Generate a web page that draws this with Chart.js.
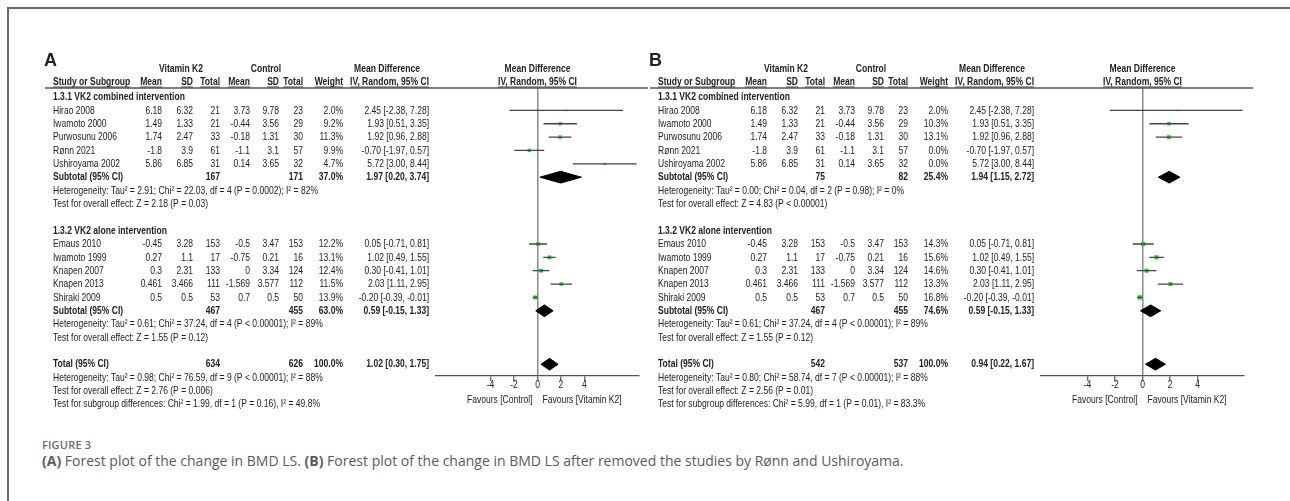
<!DOCTYPE html>
<html>
<head>
<meta charset="utf-8">
<script src="https://cdn.jsdelivr.net/npm/chart.js@4.4.1/dist/chart.umd.min.js"></script>
<style>
  html, body { margin: 0; padding: 0; background: #fff; }
  body { width: 1290px; height: 501px; position: relative; overflow: hidden; }
  #frame { position: absolute; left: 7px; top: 7px; width: 1300px; height: 510px;
           border-left: 2px solid #6b6b6b; border-top: 2px solid #6b6b6b; }
  canvas { position: absolute; top: 0; }
  #plotA { left: 0; }
  #plotB { left: 605px; }
  .fig { position: absolute; left: 42px; top: 437px; font: 600 11px "Open Sans", sans-serif;
         color: #6d6d6d; letter-spacing: 0.2px; }
  .cap { position: absolute; left: 42px; top: 451px; font: 14px "Open Sans", sans-serif;
         color: #5a5a5a; white-space: nowrap; }
  .cap b { font-weight: 700; }
</style>
</head>
<body>
<div id="frame"></div>
<canvas id="plotA" width="650" height="420"></canvas>
<canvas id="plotB" width="685" height="420"></canvas>
<div class="fig">FIGURE 3</div>
<div class="cap"><b>(A)</b> Forest plot of the change in BMD LS. <b>(B)</b> Forest plot of the change in BMD LS after removed the studies by Rønn and Ushiroyama.</div>

<script>
// ---- data ----
const groupTitles = ['1.3.1 VK2 combined intervention', '1.3.2 VK2 alone intervention'];
const studyNames = ['Hirao 2008', 'Iwamoto 2000', 'Purwosunu 2006', 'Rønn 2021', 'Ushiroyama 2002',
                    'Emaus 2010', 'Iwamoto 1999', 'Knapen 2007', 'Knapen 2013', 'Shiraki 2009'];
const studyGroup = [0, 0, 0, 0, 0, 1, 1, 1, 1, 1];
const vk2Mean = [6.18, 1.49, 1.74, -1.8, 5.86, -0.45, 0.27, 0.3, 0.461, 0.5];
const vk2SD   = [6.32, 1.33, 2.47, 3.9, 6.85, 3.28, 1.1, 2.31, 3.466, 0.5];
const vk2N    = [21, 21, 33, 61, 31, 153, 17, 133, 111, 53];
const ctlMean = [3.73, -0.44, -0.18, -1.1, 0.14, -0.5, -0.75, 0, -1.569, 0.7];
const ctlSD   = [9.78, 3.56, 1.31, 3.1, 3.65, 3.47, 0.21, 3.34, 3.577, 0.5];
const ctlN    = [23, 29, 30, 57, 32, 153, 16, 124, 112, 50];
const meanDiff = [2.45, 1.93, 1.92, -0.70, 5.72, 0.05, 1.02, 0.30, 2.03, -0.20];
const ciLow    = [-2.38, 0.51, 0.96, -1.97, 3.00, -0.71, 0.49, -0.41, 1.11, -0.39];
const ciHigh   = [7.28, 3.35, 2.88, 0.57, 8.44, 0.81, 1.55, 1.01, 2.95, -0.01];
const weightA  = [2.0, 9.2, 11.3, 9.9, 4.7, 12.2, 13.1, 12.4, 11.5, 13.9];
const weightB  = [2.0, 10.3, 13.1, 0.0, 0.0, 14.3, 15.6, 14.6, 13.3, 16.8];

// pooled rows: subgroup 1, subgroup 2, total
const pooledVk2NA = [167, 467, 634];
const pooledCtlNA = [171, 455, 626];
const pooledWA    = [37.0, 63.0, 100.0];
const pooledMdA   = [1.97, 0.59, 1.02];
const pooledLoA   = [0.20, -0.15, 0.30];
const pooledHiA   = [3.74, 1.33, 1.75];
const pooledVk2NB = [75, 467, 542];
const pooledCtlNB = [82, 455, 537];
const pooledWB    = [25.4, 74.6, 100.0];
const pooledMdB   = [1.94, 0.59, 0.94];
const pooledLoB   = [1.15, -0.15, 0.22];
const pooledHiB   = [2.72, 1.33, 1.67];

const hetA = ['Heterogeneity: Tau² = 2.91; Chi² = 22.03, df = 4 (P = 0.0002); I² = 82%',
              'Heterogeneity: Tau² = 0.61; Chi² = 37.24, df = 4 (P < 0.00001); I² = 89%',
              'Heterogeneity: Tau² = 0.98; Chi² = 76.59, df = 9 (P < 0.00001); I² = 88%'];
const effA = ['Test for overall effect: Z = 2.18 (P = 0.03)',
              'Test for overall effect: Z = 1.55 (P = 0.12)',
              'Test for overall effect: Z = 2.76 (P = 0.006)'];
const subTestA = 'Test for subgroup differences: Chi² = 1.99, df = 1 (P = 0.16), I² = 49.8%';
const hetB = ['Heterogeneity: Tau² = 0.00; Chi² = 0.04, df = 2 (P = 0.98); I² = 0%',
              'Heterogeneity: Tau² = 0.61; Chi² = 37.24, df = 4 (P < 0.00001); I² = 89%',
              'Heterogeneity: Tau² = 0.80; Chi² = 58.74, df = 7 (P < 0.00001); I² = 88%'];
const effB = ['Test for overall effect: Z = 4.83 (P < 0.00001)',
              'Test for overall effect: Z = 1.55 (P = 0.12)',
              'Test for overall effect: Z = 2.56 (P = 0.01)'];
const subTestB = 'Test for subgroup differences: Chi² = 5.99, df = 1 (P = 0.01), I² = 83.3%';

const xTicks = [-4, -2, 0, 2, 4];
const favourLabels = ['Favours [Control]', 'Favours [Vitamin K2]'];

// ---- layout ----
const FONT = '"Liberation Sans", Arial, sans-serif';
const FS = 11.5;
const INK = '#222';
const GREEN = '#1fd01f';
const COL = { study: 53, vkMean: 162, vkSD: 193, vkN: 220, cMean: 250, cSD: 279, cN: 303, w: 343, ci: 429 };
const Y_MIN = -0.674, Y_MAX = 20.88;   // row units, row 0 = first subgroup title

// row index of every line of the table
function rowsFor() {
  const r = { title: [], study: [], sub: [], het: [], eff: [] };
  let row = 0;
  for (let g = 0; g < 2; g++) {
    r.title.push(row++);
    studyNames.forEach((n, i) => { if (studyGroup[i] === g) r.study[i] = row++; });
    r.sub.push(row++); r.het.push(row++); r.eff.push(row++);
    row++;
  }
  r.sub.push(row++); r.het.push(row++); r.eff.push(row++);
  r.subTest = row;
  return r;
}
const ROWS = rowsFor();

let squeeze = null;
function txt(ctx, s, x, y, align, bold, size, sq) {
  ctx.save();
  if (squeeze === null) {
    ctx.font = FS + 'px ' + FONT;
    squeeze = 265 / ctx.measureText(hetA[0]).width;
  }
  const k = sq || squeeze;
  ctx.font = (bold ? 'bold ' : '') + (size || FS) + 'px ' + FONT;
  const w = ctx.measureText(s).width * k;
  const x0 = align === 'right' ? x - w : align === 'center' ? x - w / 2 : x;
  ctx.translate(x0, y);
  ctx.scale(k, 1);
  ctx.fillStyle = INK;
  ctx.textAlign = 'left';
  ctx.textBaseline = 'middle';
  ctx.fillText(s, 0, 0);
  ctx.restore();
  return { x0, w };
}
function hline(ctx, x1, x2, y, color, lw) {
  ctx.save();
  ctx.strokeStyle = color; ctx.lineWidth = lw;
  ctx.beginPath(); ctx.moveTo(x1, y); ctx.lineTo(x2, y); ctx.stroke();
  ctx.restore();
}

function ci(md, lo, hi) {
  return md.toFixed(2) + ' [' + lo.toFixed(2) + ', ' + hi.toFixed(2) + ']';
}

function makePanel(id, letter, weights, pooled, het, eff, subTest, xRange) {
  const studyIdx = studyNames.map((n, i) => i).filter(i => weights[i] > 0);

  const ciLines = [];
  studyIdx.forEach(i => {
    ciLines.push({ x: ciLow[i], y: ROWS.study[i] }, { x: ciHigh[i], y: ROWS.study[i] }, { x: ciHigh[i], y: null });
  });
  const points = studyIdx.map(i => ({ x: meanDiff[i], y: ROWS.study[i] }));
  const radii = studyIdx.map(i => 0.75 * Math.sqrt(weights[i]));

  const diamonds = [0, 1, 2].map(k => {
    const r = ROWS.sub[k], h = 0.44;
    return {
      type: 'line',
      data: [{ x: pooled.lo[k], y: r }, { x: pooled.md[k], y: r - h }, { x: pooled.hi[k], y: r },
             { x: pooled.md[k], y: r + h }, { x: pooled.lo[k], y: r }],
      borderColor: '#000', backgroundColor: '#000', borderWidth: 1,
      pointRadius: 0, fill: 'shape', tension: 0
    };
  });

  const table = {
    id: 'forestTable' + letter,
    afterDraw(chart) {
      const ctx = chart.ctx, ys = chart.scales.y, xs = chart.scales.x, area = chart.chartArea;
      const Y = r => ys.getPixelForValue(r);
      const x0 = xs.getPixelForValue(0);

      txt(ctx, letter, 44, 61, 'left', true, 18, 1);

      const h1 = Y(-2.1);
      txt(ctx, 'Vitamin K2', 181, h1, 'center', true);
      txt(ctx, 'Control', 266, h1, 'center', true);
      txt(ctx, 'Mean Difference', 387, h1, 'center', true);
      txt(ctx, 'Mean Difference', x0, h1, 'center', true);

      const h2 = Y(-1.12);
      const heads = [['Study or Subgroup', COL.study, 'left'], ['Mean', COL.vkMean, 'right'], ['SD', COL.vkSD, 'right'],
                     ['Total', COL.vkN, 'right'], ['Mean', COL.cMean, 'right'], ['SD', COL.cSD, 'right'],
                     ['Total', COL.cN, 'right'], ['Weight', COL.w, 'right'], ['IV, Random, 95% CI', COL.ci, 'right'],
                     ['IV, Random, 95% CI', x0, 'center']];
      heads.forEach(([s, x, a]) => {
        const m = txt(ctx, s, x, h2, a, true);
        hline(ctx, m.x0, m.x0 + m.w, h2 + 5, INK, 0.9);
      });
      hline(ctx, 45, area.right + 9, area.top, '#555', 1.3);

      for (let g = 0; g < 2; g++) txt(ctx, groupTitles[g], COL.study, Y(ROWS.title[g]), 'left', true);

      studyNames.forEach((n, i) => {
        const y = Y(ROWS.study[i]);
        txt(ctx, n, COL.study, y, 'left');
        txt(ctx, String(vk2Mean[i]), COL.vkMean, y, 'right');
        txt(ctx, String(vk2SD[i]), COL.vkSD, y, 'right');
        txt(ctx, String(vk2N[i]), COL.vkN, y, 'right');
        txt(ctx, String(ctlMean[i]), COL.cMean, y, 'right');
        txt(ctx, String(ctlSD[i]), COL.cSD, y, 'right');
        txt(ctx, String(ctlN[i]), COL.cN, y, 'right');
        txt(ctx, weights[i].toFixed(1) + '%', COL.w, y, 'right');
        txt(ctx, ci(meanDiff[i], ciLow[i], ciHigh[i]), COL.ci, y, 'right');
      });

      for (let k = 0; k < 3; k++) {
        const y = Y(ROWS.sub[k]);
        txt(ctx, k < 2 ? 'Subtotal (95% CI)' : 'Total (95% CI)', COL.study, y, 'left', true);
        txt(ctx, String(pooled.vkN[k]), COL.vkN, y, 'right', true);
        txt(ctx, String(pooled.cN[k]), COL.cN, y, 'right', true);
        txt(ctx, pooled.w[k].toFixed(1) + '%', COL.w, y, 'right', true);
        txt(ctx, ci(pooled.md[k], pooled.lo[k], pooled.hi[k]), COL.ci, y, 'right', true);
        txt(ctx, het[k], COL.study, Y(ROWS.het[k]), 'left');
        txt(ctx, eff[k], COL.study, Y(ROWS.eff[k]), 'left');
      }
      txt(ctx, subTest, COL.study, Y(ROWS.subTest), 'left');

      xTicks.forEach(v => txt(ctx, String(v), xs.getPixelForValue(v), area.bottom + 9, 'center'));
      txt(ctx, favourLabels[0], x0 - 5, area.bottom + 24, 'right');
      txt(ctx, favourLabels[1], x0 + 5, area.bottom + 24, 'left');
    }
  };

  const canvas = document.getElementById(id);
  return new Chart(canvas, {
    type: 'scatter',
    data: {
      datasets: [
        { type: 'line', data: ciLines, borderColor: '#444', borderWidth: 1.3, pointRadius: 0,
          spanGaps: false, fill: false, tension: 0 },
        { type: 'scatter', data: points, pointStyle: 'rect', pointRadius: radii,
          backgroundColor: GREEN, borderWidth: 0 },
        ...diamonds
      ]
    },
    options: {
      responsive: false,
      animation: false,
      devicePixelRatio: 1,
      layout: { padding: { left: 436, right: canvas.width - 639, top: 88, bottom: 24 } },
      plugins: { legend: { display: false }, tooltip: { enabled: false } },
      scales: {
        x: {
          type: 'linear', min: xRange[0], max: xRange[1],
          afterBuildTicks: s => { s.ticks = xTicks.map(v => ({ value: v })); },
          afterFit: s => { s.height = 20; },
          ticks: { display: false },
          grid: {
            color: c => (c.tick && c.tick.value === 0) ? '#8a8a8a' : 'rgba(0,0,0,0)',
            lineWidth: 1.5, tickColor: '#555', tickWidth: 1.2, tickLength: 5, drawTicks: true
          },
          border: { display: true, color: '#555', width: 1.3 }
        },
        y: { type: 'linear', reverse: true, min: Y_MIN, max: Y_MAX, display: false }
      }
    },
    plugins: [table]
  });
}

makePanel('plotA', 'A', weightA,
  { vkN: pooledVk2NA, cN: pooledCtlNA, w: pooledWA, md: pooledMdA, lo: pooledLoA, hi: pooledHiA },
  hetA, effA, subTestA, [-8.64, 8.64]);
makePanel('plotB', 'B', weightB,
  { vkN: pooledVk2NB, cN: pooledCtlNB, w: pooledWB, md: pooledMdB, lo: pooledLoB, hi: pooledHiB },
  hetB, effB, subTestB, [-7.38, 7.38]);
</script>
</body>
</html>
